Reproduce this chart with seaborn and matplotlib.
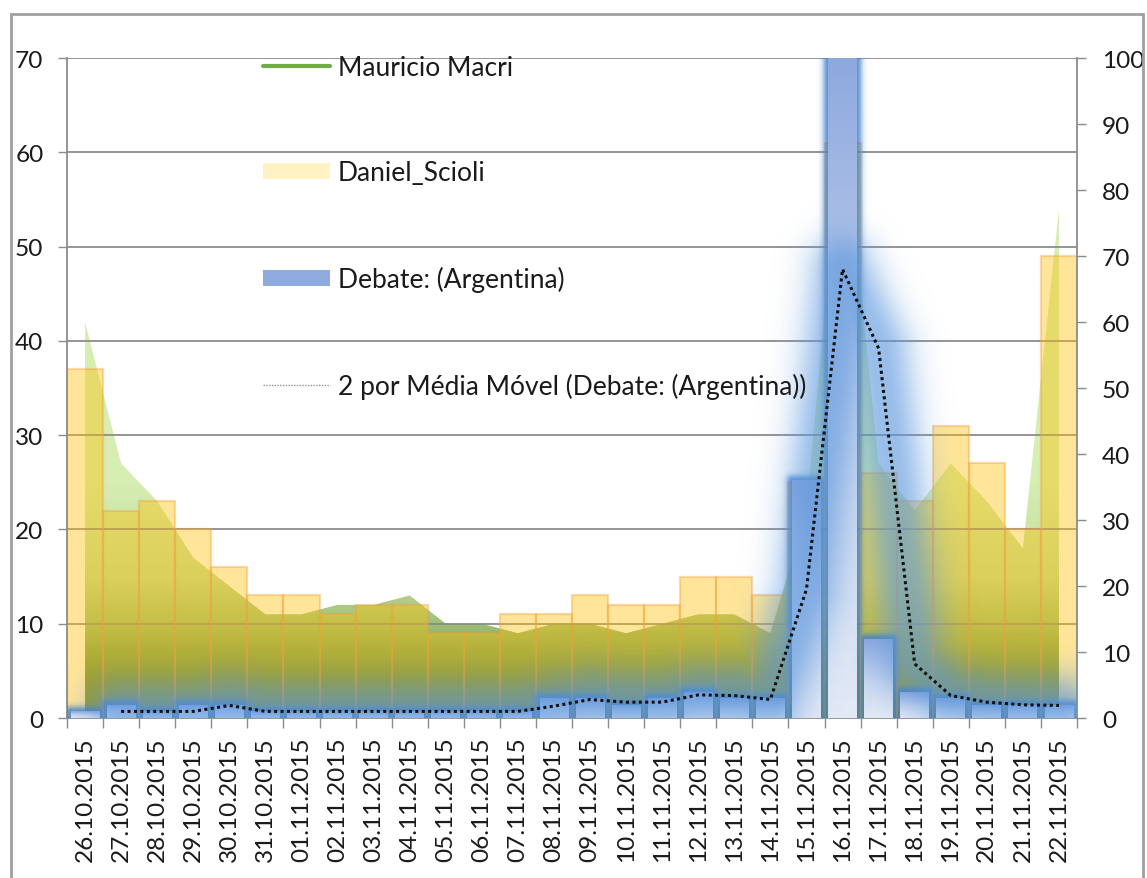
import numpy as np
import pandas as pd
import matplotlib
matplotlib.use("Agg")
import matplotlib.pyplot as plt
from matplotlib.colors import LinearSegmentedColormap, to_rgb
from matplotlib.patches import Rectangle, Patch
from matplotlib.lines import Line2D
import seaborn as sns

# ---- data -----------------------------------------------------------------
dates = [
    "26.10.2015", "27.10.2015", "28.10.2015", "29.10.2015", "30.10.2015",
    "31.10.2015", "01.11.2015", "02.11.2015", "03.11.2015", "04.11.2015",
    "05.11.2015", "06.11.2015", "07.11.2015", "08.11.2015", "09.11.2015",
    "10.11.2015", "11.11.2015", "12.11.2015", "13.11.2015", "14.11.2015",
    "15.11.2015", "16.11.2015", "17.11.2015", "18.11.2015", "19.11.2015",
    "20.11.2015", "21.11.2015", "22.11.2015",
]
macri = [42, 27, 23, 17, 14, 11, 11, 12, 12, 13, 10, 10, 9, 10,
         10, 9, 10, 11, 11, 9, 22, 64, 27, 22, 27, 23, 18, 54]
scioli = [37, 22, 23, 20, 16, 13, 13, 11, 12, 12, 9, 9, 11, 11,
          13, 12, 12, 15, 15, 13, 25, 61, 26, 23, 31, 27, 20, 49]
debate = [1, 2, 1, 2, 2, 1, 1, 1, 1, 1, 1, 1, 1, 3,
          3, 2, 3, 4, 3, 3, 36, 100, 12, 4, 3, 2, 2, 2]
debate_ma = [np.nan, 1, 1, 1, 1.9, 1, 1, 1, 1, 1, 1, 1, 1, 1.8,
             2.8, 2.4, 2.4, 3.5, 3.4, 2.8, 19.5, 68, 56, 8.2, 3.4, 2.4, 2.0, 1.9]

legend_labels = ["Mauricio Macri", "Daniel_Scioli", "Debate: (Argentina)",
                 "2 por Média Móvel (Debate: (Argentina))"]

# ---- style ----------------------------------------------------------------
sns.set_style("white")
plt.rcParams["font.family"] = ["Lato", "DejaVu Sans"]
TICK_FS = 17.6
LEG_FS = 19.0

W_PX, H_PX = 1147, 879
fig = plt.figure(figsize=(W_PX / 100, H_PX / 100), dpi=100)
fig.patch.set_facecolor("white")
L, R, B, T = 67, 1077, 719, 59
ax = fig.add_axes([L / W_PX, 1 - B / H_PX, (R - L) / W_PX, (B - T) / H_PX])
ax2 = ax.twinx()

n = len(dates)
xpos = np.arange(n)
df = pd.DataFrame({"date": dates, "macri": macri, "scioli": scioli,
                   "debate": debate, "ma": debate_ma})

GRID = "#8C8C8C"
TXT = "#1A1A1A"

# ---- primary axis: Scioli bars over the Macri area -------------------------
sns.barplot(data=df, x="date", y="scioli", ax=ax, color="#FFC000", alpha=0.4,
            width=1.0, saturation=1, edgecolor="#F0A040", linewidth=1.6,
            zorder=2)

area = ax.fill_between(xpos, 0, macri, facecolor="none", edgecolor="none",
                       zorder=1)
macri_cmap = LinearSegmentedColormap.from_list(
    "macri_fill",
    [(0.0, "#557F3C"), (0.16, "#638E46"), (0.40, "#A0C078"),
     (0.60, "#C4DB9A"), (1.0, "#D6EEB2")])
yy = np.linspace(0, 70, 400)
grad = macri_cmap(np.clip(yy / 25.0, 0, 1))[:, None, :]
area_img = ax.imshow(grad, extent=(-0.5, n - 0.5, 0, 70), origin="lower",
                     aspect="auto", interpolation="bilinear", zorder=1)
area_img.set_clip_path(area.get_paths()[0], transform=ax.transData)

# ---- secondary axis: Debate bars and the moving average --------------------
sns.barplot(data=df, x="date", y="debate", ax=ax2, color="#D9E2F3",
            width=0.8, saturation=1, linewidth=0, zorder=2)
debate_bars = list(ax2.patches)

bar_cmap = LinearSegmentedColormap.from_list(
    "debate_fill", [(0.0, "#E3EAF6"), (0.45, "#CCD8F0"), (1.0, "#8EA9DE")])
bar_grad = bar_cmap(np.linspace(0, 1, 200))[:, None, :]
for p in debate_bars:
    xb, w, h = p.get_x(), p.get_width(), p.get_height()
    im = ax2.imshow(bar_grad, extent=(xb, xb + w, 0, h), origin="lower",
                    aspect="auto", interpolation="bilinear", zorder=2.1)
    im.set_clip_path(p)
    p.set_facecolor("none")

sns.lineplot(x=xpos, y=debate_ma, ax=ax2, color="#111111", lw=2.2,
             linestyle=(0, (1, 1.1)), zorder=5)

# ---- limits ---------------------------------------------------------------
def set_limits():
    ax.set_xlim(-0.5, n - 0.5)
    ax.set_ylim(0, 70)
    ax2.set_ylim(0, 100)

set_limits()
ax.set_autoscale_on(False)
ax2.set_autoscale_on(False)

# ---- glow layers (soft halo around the Debate bars and the trend line) ----
bb = ax2.bbox
gw, gh = int(round(bb.width)), int(round(bb.height))
gx = bb.x0 + (np.arange(gw) + 0.5) * bb.width / gw
gy = bb.y0 + (np.arange(gh) + 0.5) * bb.height / gh
PX, PY = np.meshgrid(gx, gy)


def polyline_distance(pts):
    d = np.full(PX.shape, np.inf)
    for (ax_, ay_), (bx_, by_) in zip(pts[:-1], pts[1:]):
        vx, vy = bx_ - ax_, by_ - ay_
        l2 = vx * vx + vy * vy
        t = np.clip(((PX - ax_) * vx + (PY - ay_) * vy) / l2, 0, 1)
        d = np.minimum(d, np.hypot(PX - (ax_ + t * vx), PY - (ay_ + t * vy)))
    return d


def rect_distance(rects):
    d = np.full(PX.shape, np.inf)
    for xa, ya, xb, yb in rects:
        dx = np.maximum(np.maximum(xa - PX, 0), PX - xb)
        dy = np.maximum(np.maximum(ya - PY, 0), PY - yb)
        d = np.minimum(d, np.hypot(dx, dy))
    return d


def glow_image(alpha, color):
    img = np.zeros(alpha.shape + (4,))
    img[..., :3] = to_rgb(color)
    img[..., 3] = alpha
    return img


rects = []
for p in debate_bars:
    (xa, ya) = ax2.transData.transform((p.get_x(), 0))
    (xb, yb) = ax2.transData.transform((p.get_x() + p.get_width(), p.get_height()))
    rects.append((xa, ya, xb, yb))
d_bar = rect_distance(rects)
bar_alpha = 0.8 * np.exp(-(d_bar / 5.5) ** 2)
ax2.imshow(glow_image(bar_alpha, "#3B7DC9"), extent=(0, 1, 0, 1),
           transform=ax2.transAxes, origin="lower", aspect="auto",
           interpolation="bilinear", zorder=1.5)

ma_arr = np.asarray(debate_ma, dtype=float)
ok = ~np.isnan(ma_arr)
ma_pts = ax2.transData.transform(np.column_stack([xpos[ok], ma_arr[ok]]))
d_ma = polyline_distance(ma_pts)
ma_alpha = 0.62 * np.exp(-(np.maximum(d_ma - 4, 0) / 30.0) ** 2)
ax2.imshow(glow_image(ma_alpha, "#5A96DE"), extent=(0, 1, 0, 1),
           transform=ax2.transAxes, origin="lower", aspect="auto",
           interpolation="bilinear", zorder=3)

set_limits()

# ---- axes, ticks, grid ----------------------------------------------------
ax.set_xlabel("")
ax.set_ylabel("")
ax2.set_xlabel("")
ax2.set_ylabel("")

ax.set_axisbelow("line")
ax.yaxis.grid(True, color=GRID, lw=1.3)
ax.xaxis.grid(False)
ax2.grid(False)

ax.set_yticks(range(0, 71, 10))
ax2.set_yticks(range(0, 101, 10))
ax.set_xticks(xpos, labels=dates, rotation=90)
ax.set_xticks(np.arange(-0.5, n, 1.0), minor=True)

ax.tick_params(axis="y", left=True, direction="out", length=6.5, width=1,
               color=GRID, pad=10.5, labelsize=TICK_FS, labelcolor=TXT)
ax2.tick_params(axis="y", right=True, direction="out", length=6.5, width=1,
                color=GRID, pad=11.5, labelsize=TICK_FS, labelcolor=TXT)
ax.tick_params(axis="x", which="major", length=0, pad=13.5,
               labelsize=TICK_FS, labelcolor=TXT)
ax.tick_params(axis="x", which="minor", bottom=True, direction="out",
               length=7, width=1, color=GRID)
for lab in ax.get_xticklabels():
    lab.set_verticalalignment("top")
    lab.set_horizontalalignment("center")

for a in (ax, ax2):
    for s in a.spines.values():
        s.set_color(GRID)
        s.set_linewidth(1.3)
    a.spines["top"].set_visible(False)
ax.spines["right"].set_visible(False)
ax2.spines["left"].set_visible(False)
ax2.spines["bottom"].set_visible(False)

# ---- legend ---------------------------------------------------------------
handles = [
    Line2D([], [], color="#70AD47", lw=3),
    Patch(facecolor="#FFF3C4", edgecolor="none"),
    Patch(facecolor="#8EAADE", edgecolor="none"),
    Line2D([], [], color="#909090", lw=1, linestyle=(0, (1, 1))),
]
leg_px = LEG_FS * 100 / 72
ax2.legend(handles, legend_labels, loc="upper left",
           bbox_to_anchor=((263 - L) / (R - L), (B - 56) / (B - T)),
           frameon=False, fontsize=LEG_FS, handlelength=67 / leg_px,
           handleheight=0.55, handletextpad=8 / leg_px, labelspacing=3.05,
           borderpad=0, borderaxespad=0, labelcolor=TXT)

# ---- chart frame ----------------------------------------------------------
frame = Rectangle((11 / W_PX, -0.1), (1143 - 11) / W_PX, 1.1 - 15 / H_PX,
                  transform=fig.transFigure, fill=False, edgecolor="#A0A0A0",
                  lw=2, zorder=10)
fig.add_artist(frame)

fig.savefig("out.png", dpi=100)
